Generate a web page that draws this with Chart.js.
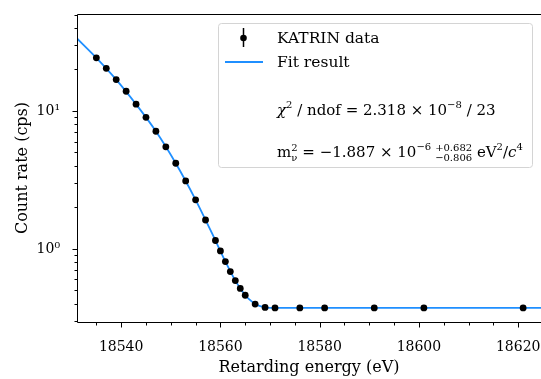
<!DOCTYPE html>
<html>
<head>
<meta charset="utf-8">
<script src="https://cdn.jsdelivr.net/npm/chart.js@4.4.0/dist/chart.umd.min.js"></script>
<style>
  html, body { margin: 0; padding: 0; background: #fff; }
</style>
</head>
<body>
<canvas id="chart" width="541" height="379"></canvas>
<script>
// data
const energy = [18535, 18537, 18539, 18541, 18543, 18545, 18547, 18549, 18551,
  18553, 18555, 18557, 18559, 18560, 18561, 18562, 18563, 18564, 18565,
  18567, 18569, 18571, 18576, 18581, 18591, 18601, 18621];
const rate = [24.3, 20.4, 16.9, 13.9, 11.2, 9.0, 7.13, 5.5, 4.18,
  3.11, 2.27, 1.62, 1.15, 0.967, 0.809, 0.685, 0.589, 0.517, 0.461,
  0.398, 0.376, 0.373, 0.373, 0.373, 0.373, 0.373, 0.373];

const fitEnergy = [18531.1, 18535, 18539, 18543, 18547, 18551, 18555, 18559,
  18561, 18563, 18565, 18566, 18567, 18568, 18569, 18570, 18571, 18590, 18624.6];
const fitRate = [33.6, 24.3, 16.9, 11.2, 7.13, 4.18, 2.27, 1.15,
  0.809, 0.589, 0.461, 0.425, 0.398, 0.384, 0.377, 0.374, 0.373, 0.373, 0.373];

const xMajor = [18540, 18560, 18580, 18600, 18620];
const xMinorStep = 5;
const yLabels = { 1: '10\u2070', 10: '10\u00b9' };

const serif = '"DejaVu Serif", serif';
const fitColor = '#1f8fff';

const decorPlugin = {
  id: 'decor',
  afterDraw(chart) {
    const ctx = chart.ctx;
    const a = chart.chartArea;
    const xs = chart.scales.x;
    const ys = chart.scales.y;
    const L = Math.round(a.left) + 0.5, B = Math.round(a.bottom) + 0.5, T = Math.round(a.top) + 0.5;
    ctx.save();
    ctx.strokeStyle = '#000';
    ctx.lineWidth = 1;

    // spines
    ctx.beginPath();
    ctx.moveTo(L, T);
    ctx.lineTo(L, B);
    ctx.lineTo(a.right, B);
    ctx.moveTo(L, T);
    ctx.lineTo(a.right, T);
    ctx.stroke();

    // x ticks
    ctx.beginPath();
    for (let v = Math.ceil(xs.min / xMinorStep) * xMinorStep; v <= xs.max; v += xMinorStep) {
      const px = Math.round(xs.getPixelForValue(v)) + 0.5;
      const len = xMajor.includes(v) ? 5 : 3;
      ctx.moveTo(px, B);
      ctx.lineTo(px, B + len);
    }
    // y ticks (log)
    for (let d = -1; d <= 1; d++) {
      for (let m = 1; m <= 9; m++) {
        const v = m * Math.pow(10, d);
        if (v < ys.min || v > ys.max) continue;
        const py = Math.round(ys.getPixelForValue(v)) + 0.5;
        const len = m === 1 ? 5 : 3;
        ctx.moveTo(L, py);
        ctx.lineTo(L - len, py);
      }
    }
    ctx.stroke();

    drawLegend(ctx);
    ctx.restore();
  }
};

function font(size, italic) {
  return (italic ? 'italic ' : '') + size + 'px ' + serif;
}

// draw a row of text pieces; each piece may be raised/lowered and smaller
function drawRuns(ctx, x, y, runs) {
  ctx.textBaseline = 'alphabetic';
  ctx.textAlign = 'left';
  for (const r of runs) {
    if (r.stack) {
      ctx.font = font(r.size);
      const w1 = ctx.measureText(r.stack[0]).width;
      const w2 = ctx.measureText(r.stack[1]).width;
      ctx.fillText(r.stack[0], x, y - 6);
      ctx.fillText(r.stack[1], x, y + 4);
      x += Math.max(w1, w2);
      continue;
    }
    ctx.font = font(r.size || 15, r.italic);
    ctx.fillText(r.t, x, y + (r.dy || 0));
    x += ctx.measureText(r.t).width + (r.gap || 0);
  }
  return x;
}

function drawLegend(ctx) {
  // frame
  const bx = 218.5, by = 23.5, bw = 314, bh = 144, r = 3;
  ctx.fillStyle = 'rgba(255,255,255,0.85)';
  ctx.strokeStyle = '#d4d4d4';
  ctx.lineWidth = 1;
  ctx.beginPath();
  ctx.roundRect(bx, by, bw, bh, r);
  ctx.fill();
  ctx.stroke();

  // data marker with error bar
  ctx.strokeStyle = '#000';
  ctx.lineWidth = 1.5;
  ctx.beginPath();
  ctx.moveTo(243.5, 28);
  ctx.lineTo(243.5, 47);
  ctx.stroke();
  ctx.fillStyle = '#000';
  ctx.beginPath();
  ctx.arc(243.5, 38, 3.3, 0, Math.PI * 2);
  ctx.fill();

  // fit line sample
  ctx.strokeStyle = fitColor;
  ctx.lineWidth = 1.8;
  ctx.beginPath();
  ctx.moveTo(225, 62);
  ctx.lineTo(263, 62);
  ctx.stroke();

  ctx.fillStyle = '#000';
  drawRuns(ctx, 277, 43, [{ t: 'KATRIN data', size: 15.5 }]);
  drawRuns(ctx, 277, 67, [{ t: 'Fit result', size: 15.5 }]);

  drawRuns(ctx, 277, 115, [
    { t: '\u03c7', italic: true },
    { t: '2', size: 10, dy: -7 },
    { t: ' / ndof = 2.318 \u00d7 10' },
    { t: '\u22128', size: 10, dy: -7 },
    { t: ' / 23' }
  ]);

  drawRuns(ctx, 277, 157, [
    { t: 'm' },
    { stack: ['2', '\u03bd'], size: 10 },
    { t: ' = \u22121.887 \u00d7 10' },
    { t: '\u22126', size: 10, dy: -7, gap: 4 },
    { stack: ['+0.682', '\u22120.806'], size: 10 },
    { t: ' eV' },
    { t: '2', size: 10, dy: -7 },
    { t: '/' },
    { t: 'c', italic: true },
    { t: '4', size: 10, dy: -7 }
  ]);
}

new Chart(document.getElementById('chart'), {
  type: 'scatter',
  data: {
    datasets: [
      {
        label: 'Fit result',
        data: fitEnergy.map((e, i) => ({ x: e, y: fitRate[i] })),
        showLine: true,
        borderColor: fitColor,
        borderWidth: 1.8,
        pointRadius: 0,
        cubicInterpolationMode: 'monotone',
        order: 2
      },
      {
        label: 'KATRIN data',
        data: energy.map((e, i) => ({ x: e, y: rate[i] })),
        backgroundColor: '#000',
        borderColor: '#000',
        pointRadius: 3.4,
        pointBorderWidth: 0,
        order: 1
      }
    ]
  },
  options: {
    responsive: false,
    animation: false,
    devicePixelRatio: 1,
    layout: { autoPadding: false, padding: { top: 14, right: 0, left: 0, bottom: 0 } },
    plugins: {
      legend: { display: false },
      tooltip: { enabled: false }
    },
    scales: {
      x: {
        type: 'linear',
        min: 18531.1,
        max: 18624.6,
        grid: { display: false },
        border: { display: false },
        afterBuildTicks: (scale) => {
          scale.ticks = xMajor.map(v => ({ value: v }));
        },
        afterFit: (scale) => {
          scale.height = 57;
          scale.paddingRight = 0;
          scale.paddingLeft = 0;
        },
        ticks: {
          autoSkip: false,
          maxRotation: 0,
          padding: 9,
          color: '#000',
          font: { family: serif, size: 14 },
          callback: (v) => String(v)
        },
        title: {
          display: true,
          text: 'Retarding energy (eV)',
          color: '#000',
          font: { family: serif, size: 16 },
          padding: { top: 0, bottom: 2 }
        }
      },
      y: {
        type: 'logarithmic',
        min: 0.295,
        max: 50.5,
        grid: { display: false },
        border: { display: false },
        afterFit: (scale) => {
          scale.width = 77;
          scale.paddingTop = 0;
          scale.paddingBottom = 0;
        },
        ticks: {
          autoSkip: false,
          padding: 9,
          color: '#000',
          font: { family: serif, size: 14 },
          callback: (v) => yLabels[v] || ''
        },
        title: {
          display: true,
          text: 'Count rate (cps)',
          color: '#000',
          font: { family: serif, size: 16 },
          padding: { top: 13, bottom: 0 }
        }
      }
    }
  },
  plugins: [decorPlugin]
});
</script>
</body>
</html>
